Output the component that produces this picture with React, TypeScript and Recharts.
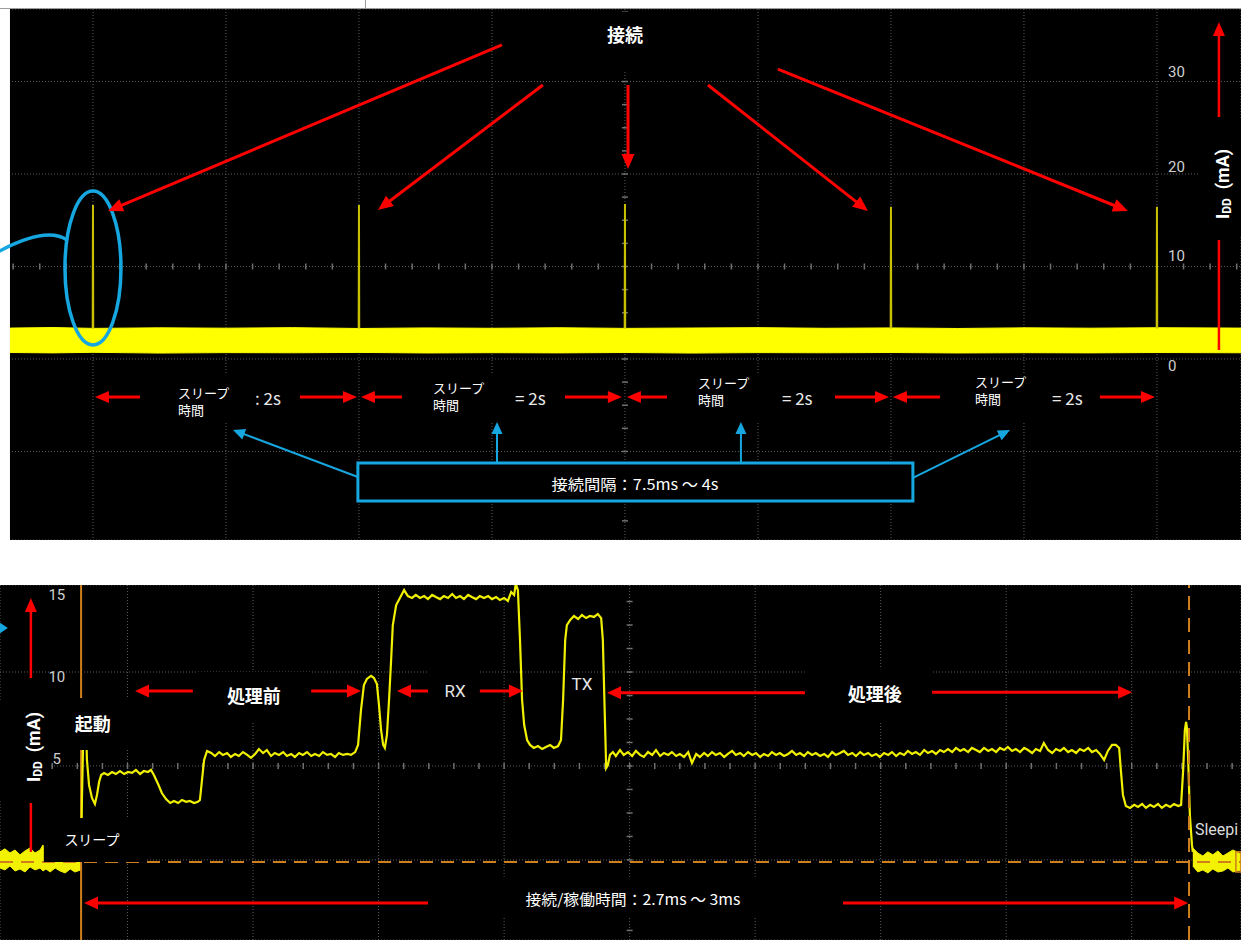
import React from 'react';
import {
  ComposedChart,
  Line,
  Area,
  XAxis,
  YAxis,
  CartesianGrid,
  ReferenceLine,
  ReferenceArea,
  ReferenceDot,
} from 'recharts';

const JP = '"Noto Sans CJK JP", "Noto Sans", sans-serif';
const SANS = 'Roboto, "Liberation Sans", Arial, sans-serif';
const RED = '#ff0000';
const BLUE = '#16a6e0';
const ORANGE = '#cf801c';

// ================= TOP PANEL (time in s, current in mA) =================
const TOP_T_DOMAIN: [number, number] = [-0.699, 8.632];
const TOP_V_DOMAIN: [number, number] = [-19.57, 37.84];
const TOP_GRID_TIME = [0, 1, 2, 3, 4, 5, 6, 7, 8];
const TOP_GRID_CURRENT = [-10, 0, 10, 20, 30];
const TOP_TICK_VALUES = [30, 20, 10, 0];
const TOP_TICK_LABELS = ['30', '20', '10', '0'];
const TOP_TICK_DY = [-10, -7, -10, 7];

// baseline (sleep) current band
const BASE_TIME = [-0.624, -0.3, 0, 0.5, 1, 1.5, 2, 2.5, 3, 3.5, 4, 4.5, 5, 5.5, 6, 6.5, 7, 7.5, 8, 8.632];
const BASE_LOW = [0.7, 0.66, 0.72, 0.64, 0.69, 0.67, 0.71, 0.65, 0.68, 0.66, 0.7, 0.64, 0.69, 0.67, 0.7, 0.65, 0.68, 0.66, 0.7, 0.67];
const BASE_HIGH = [3.34, 3.4, 3.31, 3.37, 3.33, 3.39, 3.3, 3.36, 3.32, 3.38, 3.31, 3.35, 3.39, 3.32, 3.36, 3.3, 3.37, 3.33, 3.38, 3.34];

// connection events
const CONNECTION_TIMES = [0, 2, 4, 6, 8];
const CONNECTION_PEAKS = [16.65, 16.65, 16.75, 16.45, 16.45];
const SPIKE_BASE = 3.3;

// sleep-interval annotations
const SLEEP_TEXT_T = [0.639, 2.556, 4.549, 6.632];
const SLEEP_TEXT_V1 = [-3.57, -3.03, -2.49, -2.38];
const SLEEP_TEXT_V2 = [-5.51, -4.97, -4.43, -4.32];
const SLEEP_EQ_T = [1.218, 3.173, 5.18, 7.211];
const SLEEP_EQ_LABELS = [': 2s', '= 2s', '= 2s', '= 2s'];
const SLEEP_LEFT_TIP = [0.015, 2.015, 4.015, 6.015];
const SLEEP_LEFT_TAIL = [0.353, 2.323, 4.316, 6.368];
const SLEEP_RIGHT_TAIL = [1.556, 3.549, 5.579, 7.571];
const SLEEP_RIGHT_TIP = [1.985, 3.977, 5.985, 7.985];
const SLEEP_BOX_T1 = [0.579, 2.496, 4.489, 6.571];
const SLEEP_BOX_T2 = [1.496, 3.451, 5.481, 7.474];

// ================= BOTTOM PANEL (time in µs, current in mA) =================
const BOT_T_DOMAIN: [number, number] = [-4.8, 2961.2];
const BOT_V_DOMAIN: [number, number] = [-4.26, 14.63];
const BOT_GRID_TIME = [0, 300, 600, 900, 1200, 1500, 1800, 2100, 2400, 2700];
const BOT_GRID_CURRENT = [0, 5, 10];
const BOT_TICK_VALUES = [15, 10, 5];
const BOT_TICK_LABELS = ['15', '10', '5'];
const BOT_TICK_DY = [17, 5, -7];

const SLEEP_BEFORE_T = [-5, 7, 19, 31, 43, 55, 67, 79, 91, 98, 105, 115, 127, 139, 151, 163, 174, 189];
const SLEEP_BEFORE_HI = [0.43, 0.59, 0.37, 0.53, 0.27, 0.48, 0.64, 0.37, 0.53, 0.8, 0.32, 0.43, 0.21, 0.48, 0.32, 0.43, 0.27, 0.37];
const SLEEP_BEFORE_LO = [-0.43, -0.53, -0.32, -0.59, -0.48, -0.64, -0.37, -0.53, -0.43, -0.59, -0.48, -0.64, -0.43, -0.59, -0.69, -0.48, -0.64, -0.53];

const SLEEP_AFTER_T = [2846, 2858, 2870, 2882, 2894, 2906, 2918, 2930, 2942, 2961];
const SLEEP_AFTER_HI = [0.64, 0.37, 0.21, 0.43, 0.27, 0.48, 0.21, 0.37, 0.53, 0.32];
const SLEEP_AFTER_LO = [-0.32, -0.64, -0.53, -0.69, -0.48, -0.64, -0.59, -0.43, -0.64, -0.53];

const ACTIVE_T = [
  189, 191, 194, 196, 198, 201, 203, 208, 215, 222, 227, 232, 237, 244, 253, 263, 272, 282, 292, 301,
  311, 320, 330, 339, 349, 356, 363, 373, 382, 392, 402, 411, 421, 430, 440, 449, 459, 468, 473, 478,
  483, 490, 500, 509, 519, 528, 538, 547, 557, 566, 576, 586, 595, 605, 614, 624, 633, 643, 652, 662,
  672, 681, 691, 700, 710, 719, 729, 739, 748, 758, 767, 777, 786, 796, 805, 815, 825, 834, 844, 851,
  858, 865, 872, 882, 889, 896, 901, 906, 911, 915, 920, 925, 930, 934, 942, 951, 961, 970, 980, 989,
  999, 1009, 1018, 1028, 1037, 1047, 1056, 1066, 1076, 1085, 1095, 1104, 1114, 1123, 1133, 1142, 1152, 1162, 1171, 1181,
  1190, 1200, 1209, 1217, 1224, 1228, 1233, 1238, 1243, 1248, 1255, 1262, 1271, 1281, 1291, 1300, 1310, 1319, 1329, 1336,
  1341, 1346, 1350, 1358, 1367, 1377, 1386, 1396, 1405, 1415, 1424, 1432, 1436, 1441, 1444, 1448, 1453, 1460, 1467, 1477,
  1486, 1496, 1506, 1515, 1525, 1534, 1544, 1554, 1563, 1573, 1582, 1592, 1601, 1611, 1620, 1630, 1640, 1649, 1659, 1668,
  1678, 1687, 1697, 1706, 1716, 1726, 1735, 1745, 1754, 1764, 1773, 1783, 1793, 1802, 1812, 1821, 1831, 1840, 1850, 1859,
  1869, 1879, 1888, 1898, 1907, 1917, 1926, 1936, 1945, 1955, 1965, 1974, 1984, 1993, 2003, 2012, 2022, 2032, 2041, 2051,
  2060, 2070, 2079, 2089, 2098, 2108, 2118, 2127, 2137, 2146, 2156, 2165, 2175, 2184, 2194, 2204, 2213, 2223, 2232, 2242,
  2251, 2261, 2271, 2280, 2290, 2299, 2309, 2318, 2328, 2337, 2347, 2357, 2366, 2376, 2385, 2395, 2404, 2414, 2423, 2433,
  2443, 2452, 2462, 2471, 2481, 2490, 2500, 2510, 2519, 2529, 2538, 2548, 2557, 2567, 2576, 2586, 2596, 2605, 2615, 2624,
  2634, 2643, 2653, 2662, 2670, 2674, 2679, 2686, 2696, 2706, 2715, 2725, 2734, 2744, 2753, 2763, 2772, 2782, 2792, 2801,
  2811, 2818, 2823, 2827, 2830, 2832, 2835, 2839, 2844, 2846,
];
const ACTIVE_I = [
  -0.11, 3.19, 6.38, 8.24, 8.51, 6.91, 5.32, 3.99, 3.3, 2.98, 3.46, 4.15, 4.52, 4.63, 4.52, 4.68, 4.57, 4.73, 4.57, 4.68,
  4.63, 4.79, 4.57, 4.73, 4.68, 4.79, 4.52, 4.04, 3.56, 3.24, 3.03, 3.14, 3.03, 3.19, 3.09, 3.14, 3.03, 3.09, 3.19, 4.26,
  5.32, 5.8, 5.69, 5.53, 5.74, 5.59, 5.69, 5.48, 5.64, 5.53, 5.74, 5.59, 5.43, 5.64, 5.9, 5.69, 5.85, 5.53, 5.69, 5.59,
  5.74, 5.53, 5.64, 5.48, 5.69, 5.59, 5.74, 5.53, 5.64, 5.53, 5.74, 5.59, 5.64, 5.48, 5.69, 5.59, 5.64, 5.59, 5.74, 6.12,
  7.98, 9.31, 9.63, 9.79, 9.68, 9.36, 8.24, 6.91, 6.12, 5.96, 6.65, 8.51, 10.64, 12.5, 13.56, 13.94, 14.36, 14.04, 13.94, 14.1,
  13.94, 14.04, 13.88, 14.1, 13.99, 13.88, 14.04, 13.94, 14.15, 13.94, 14.04, 13.88, 14.1, 13.99, 13.88, 14.04, 13.94, 14.04, 13.88, 13.99,
  13.83, 13.94, 13.78, 14.26, 14.1, 14.7, 14.36, 11.7, 8.51, 7.18, 6.38, 6.12, 5.96, 6.06, 5.9, 6.01, 6.12, 5.96, 6.06, 6.38,
  8.51, 11.7, 12.5, 12.77, 12.98, 12.82, 13.03, 12.87, 12.98, 12.93, 13.09, 12.87, 11.7, 7.45, 4.89, 5.05, 5.59, 5.74, 5.53, 5.85,
  5.59, 5.74, 5.53, 5.8, 5.59, 5.48, 5.74, 5.59, 5.85, 5.53, 5.69, 5.59, 5.74, 5.53, 5.64, 5.48, 5.74, 5.16, 5.64, 5.48,
  5.69, 5.53, 5.74, 5.59, 5.69, 5.48, 5.64, 5.8, 5.59, 5.69, 5.53, 5.74, 5.59, 5.69, 5.48, 5.64, 5.53, 5.74, 5.59, 5.69,
  5.53, 5.64, 5.8, 5.59, 5.69, 5.53, 5.74, 5.59, 5.69, 5.53, 5.64, 5.48, 5.74, 5.59, 5.69, 5.8, 5.59, 5.69, 5.53, 5.74,
  5.59, 5.69, 5.53, 5.64, 5.48, 5.69, 5.59, 5.74, 5.53, 5.69, 5.59, 5.8, 5.64, 5.74, 5.59, 5.85, 5.69, 5.8, 5.64, 5.85,
  5.74, 5.9, 5.74, 5.96, 5.8, 5.9, 5.74, 5.96, 5.85, 5.74, 5.96, 5.8, 5.9, 5.74, 5.96, 5.85, 6.01, 5.8, 5.9, 5.74,
  5.96, 5.85, 5.69, 5.9, 5.8, 6.22, 5.85, 5.69, 5.9, 5.8, 5.96, 5.74, 5.85, 5.69, 5.9, 5.8, 5.96, 5.74, 5.85, 5.64,
  5.32, 5.8, 6.12, 6.12, 5.96, 4.79, 3.46, 2.87, 2.77, 2.93, 2.82, 2.98, 2.77, 2.93, 2.82, 2.98, 2.77, 2.93, 2.82, 2.98,
  2.87, 2.93, 4.79, 6.91, 7.34, 7.02, 5.32, 2.39, 0.8, 0.43,
];

const CONNECTION_START_US = 189;
const CONNECTION_END_US = 2837;
const SLEEP_LEVEL = -0.11;

// axis minor tick positions (graticule)
const seq = (a: number, b: number, s: number) => {
  const out: number[] = [];
  for (let x = a; x <= b + 1e-9; x += s) out.push(Math.round(x * 1000) / 1000);
  return out;
};
const TOP_MINOR_T = seq(-0.6, 8.6, 0.2);
const TOP_MINOR_V = seq(-17.5, 37.5, 2.5);
const BOT_MINOR_T = seq(0, 2940, 60);
const BOT_MINOR_V = seq(-3.75, 13.75, 1.25);

// ---------- derived series ----------
const topBand = BASE_TIME.map((t, i) => ({ t, r: [BASE_LOW[i], BASE_HIGH[i]] }));
const spikeData = CONNECTION_TIMES.flatMap((c, i) => [
  { t: c - 0.002, v: SPIKE_BASE },
  { t: c, v: CONNECTION_PEAKS[i] },
  { t: c + 0.002, v: SPIKE_BASE },
  { t: c + 0.01, v: null },
]);
const sleepBefore = SLEEP_BEFORE_T.map((t, i) => ({ t, r: [SLEEP_BEFORE_LO[i], SLEEP_BEFORE_HI[i]] }));
const sleepAfter = SLEEP_AFTER_T.map((t, i) => ({ t, r: [SLEEP_AFTER_LO[i], SLEEP_AFTER_HI[i]] }));
const activeTrace = ACTIVE_T.map((t, i) => ({ t, v: ACTIVE_I[i] }));

// ---------- annotation helpers ----------
type TO = {
  size?: number;
  weight?: number | string;
  fill?: string;
  family?: string;
  anchor?: 'start' | 'middle' | 'end';
  len?: number;
  dy?: number;
  z?: number;
};

function txt(key: string, t: number, v: number, content: React.ReactNode, o: TO = {}) {
  return (
    <ReferenceDot
      key={key}
      x={t}
      y={v}
      r={0}
      ifOverflow="visible"
      zIndex={o.z ?? 1100}
      shape={(p: any) => (
        <text
          x={p.cx}
          y={p.cy + (o.dy ?? 0)}
          textAnchor={o.anchor ?? 'middle'}
          dominantBaseline="central"
          fontSize={o.size ?? 14}
          fontWeight={o.weight ?? 400}
          fill={o.fill ?? '#ffffff'}
          fontFamily={o.family ?? JP}
          {...(o.len ? { textLength: o.len, lengthAdjust: 'spacingAndGlyphs' } : {})}
        >
          {content}
        </text>
      )}
    />
  );
}

type AO = { color?: string; w?: number; head?: boolean; hl?: number; hw?: number };
function arrow(key: string, from: [number, number], to: [number, number], o: AO = {}) {
  const color = o.color ?? RED;
  const w = o.w ?? 3;
  const head = o.head ?? true;
  const hl = o.hl ?? 15;
  const hw = o.hw ?? 13;
  return (
    <ReferenceLine
      key={key}
      segment={[
        { x: from[0], y: from[1] },
        { x: to[0], y: to[1] },
      ]}
      ifOverflow="visible"
      zIndex={1200}
      shape={(p: any) => {
        const x1 = Number(p.x1), y1 = Number(p.y1), x2 = Number(p.x2), y2 = Number(p.y2);
        if (!head) return <line x1={x1} y1={y1} x2={x2} y2={y2} stroke={color} strokeWidth={w} />;
        const dx = x2 - x1, dy = y2 - y1;
        const len = Math.hypot(dx, dy) || 1;
        const ux = dx / len, uy = dy / len;
        const bx = x2 - ux * hl, by = y2 - uy * hl;
        const px = (-uy * hw) / 2, py = (ux * hw) / 2;
        return (
          <g>
            <line x1={x1} y1={y1} x2={bx + ux} y2={by + uy} stroke={color} strokeWidth={w} />
            <polygon points={`${x2},${y2} ${bx + px},${by + py} ${bx - px},${by - py}`} fill={color} />
          </g>
        );
      }}
    />
  );
}

function box(key: string, t1: number, t2: number, v1: number, v2: number) {
  return (
    <ReferenceArea
      key={key}
      x1={t1}
      x2={t2}
      y1={v1}
      y2={v2}
      fill="#000000"
      fillOpacity={1}
      stroke="none"
      ifOverflow="visible"
      zIndex={1000}
    />
  );
}

function tick(key: string, t: number, v: number, dir: 'h' | 'v') {
  return (
    <ReferenceDot
      key={key}
      x={t}
      y={v}
      r={0}
      zIndex={-50}
      shape={(p: any) =>
        dir === 'h' ? (
          <line x1={p.cx} x2={p.cx} y1={p.cy - 3} y2={p.cy + 3} stroke="#707070" strokeWidth={1.5} />
        ) : (
          <line x1={p.cx - 3} x2={p.cx + 3} y1={p.cy} y2={p.cy} stroke="#707070" strokeWidth={1.5} />
        )
      }
    />
  );
}

function iddLabel(key: string, t: number, v: number) {
  return (
    <ReferenceDot
      key={key}
      x={t}
      y={v}
      r={0}
      ifOverflow="visible"
      zIndex={1100}
      shape={(p: any) => (
        <text
          x={p.cx}
          y={p.cy}
          transform={`rotate(-90 ${p.cx} ${p.cy})`}
          textAnchor="middle"
          dominantBaseline="central"
          fontFamily={SANS}
          fontWeight={700}
          fontSize={18}
          fill="#ffffff"
        >
          <tspan>I</tspan>
          <tspan fontSize={12} dy={5}>DD</tspan>
          <tspan dy={-5}>{'\u00a0\u00a0(mA)'}</tspan>
        </text>
      )}
    />
  );
}

export default function App() {
  return (
    <div style={{ position: 'absolute', left: 0, top: 0, width: 1241, height: 940, background: '#ffffff', overflow: 'hidden' }}>
      <div style={{ position: 'absolute', left: 0, top: 8, width: 1241, height: 1, background: '#9c9c9c' }} />
      <div style={{ position: 'absolute', left: 365, top: 0, width: 1, height: 8, background: '#9c9c9c' }} />

      {/* ================= TOP PANEL ================= */}
      <div style={{ position: 'absolute', left: 0, top: 9, width: 1241, height: 531, background: '#000000' }}>
        <ComposedChart width={1241} height={531} margin={{ top: 0, right: 0, bottom: 0, left: 0 }}>
          <XAxis type="number" dataKey="t" domain={TOP_T_DOMAIN} ticks={TOP_GRID_TIME} hide allowDataOverflow />
          <YAxis type="number" domain={TOP_V_DOMAIN} ticks={TOP_GRID_CURRENT} hide allowDataOverflow />
          <CartesianGrid stroke="#5c5c5c" strokeDasharray="1 2" />
          {TOP_MINOR_T.map((t, i) => tick(`th${i}`, t, 10, 'h'))}
          {TOP_MINOR_V.map((v, i) => tick(`tv${i}`, 4, v, 'v'))}
          <Area
            data={topBand}
            dataKey="r"
            type="linear"
            stroke="#ffff00"
            strokeWidth={1}
            fill="#ffff00"
            fillOpacity={1}
            dot={false}
            activeDot={false}
            isAnimationActive={false}
          />
          <Line
            data={spikeData}
            dataKey="v"
            type="linear"
            stroke="#c8c000"
            strokeWidth={2}
            dot={false}
            activeDot={false}
            connectNulls={false}
            isAnimationActive={false}
          />
          <ReferenceArea x1={-0.7} x2={-0.624} fill="#ffffff" fillOpacity={1} stroke="none" ifOverflow="visible" zIndex={900} />

          {box('b-conn', 3.7, 4.3, 31.03, 37.51)}
          {box('b-idd', 8.323, 8.632, 13.41, 25.84)}
          {SLEEP_BOX_T1.map((t1, i) => box(`b-sl${i}`, t1, SLEEP_BOX_T2[i], -6.92, -1.6))}
          <ReferenceArea
            x1={1.992}
            x2={6.165}
            y1={-15.35}
            y2={-11.24}
            fill="#000000"
            fillOpacity={1}
            stroke={BLUE}
            strokeWidth={3}
            ifOverflow="visible"
            zIndex={1000}
          />

          {txt('conn', 4.0, 35.14, '接続', { size: 18, weight: 700 })}
          {TOP_TICK_VALUES.map((v, i) =>
            txt(`ytl${i}`, 8.083, v, TOP_TICK_LABELS[i], { anchor: 'start', size: 15, fill: '#cfcfcf', family: SANS, dy: TOP_TICK_DY[i] })
          )}
          {iddLabel('idd-top', 8.489, 18.92)}
          {SLEEP_TEXT_T.map((t, i) => txt(`s1-${i}`, t, SLEEP_TEXT_V1[i], 'スリープ', { anchor: 'start', size: 13 }))}
          {SLEEP_TEXT_T.map((t, i) => txt(`s2-${i}`, t, SLEEP_TEXT_V2[i], '時間', { anchor: 'start', size: 13 }))}
          {SLEEP_EQ_T.map((t, i) => txt(`eq-${i}`, t, -4.11, SLEEP_EQ_LABELS[i], { anchor: 'start', size: 17, fill: '#e8e8e8' }))}
          {txt('interval', 4.075, -13.41, '接続間隔：7.5ms ～ 4s', { size: 15, len: 167 })}

          <ReferenceDot
            x={0}
            y={9.84}
            r={0}
            ifOverflow="visible"
            zIndex={1150}
            shape={(p: any) => (
              <g fill="none" stroke={BLUE} strokeWidth={3.5}>
                <ellipse cx={p.cx} cy={p.cy} rx={28} ry={77} />
                <path d={`M ${p.cx - 95} ${p.cy - 16} Q ${p.cx - 47} ${p.cy - 42} ${p.cx - 26} ${p.cy - 28}`} />
              </g>
            )}
          />

          {arrow('a1', [3.075, 33.95], [0.113, 16.0])}
          {arrow('a2', [3.383, 29.62], [2.143, 16.11])}
          {arrow('a3', [4.023, 29.62], [4.023, 20.54])}
          {arrow('a4', [4.624, 29.62], [5.827, 16.0])}
          {arrow('a5', [5.15, 31.35], [7.782, 16.0])}
          {arrow('idd-up', [8.466, 26.16], [8.466, 36.43], { w: 2.5, hl: 14, hw: 12 })}
          {arrow('idd-dn', [8.466, 12.86], [8.466, 0.97], { w: 2.5, head: false })}
          {SLEEP_LEFT_TIP.map((tip, i) => arrow(`sl-l${i}`, [SLEEP_LEFT_TAIL[i], -4.11], [tip, -4.11], { hl: 14, hw: 12 }))}
          {SLEEP_RIGHT_TIP.map((tip, i) => arrow(`sl-r${i}`, [SLEEP_RIGHT_TAIL[i], -4.11], [tip, -4.11], { hl: 14, hw: 12 }))}
          {arrow('bl1', [1.992, -12.76], [1.053, -7.68], { color: BLUE, w: 2, hl: 12, hw: 11 })}
          {arrow('bl2', [3.038, -11.24], [3.038, -6.81], { color: BLUE, w: 2, hl: 12, hw: 11 })}
          {arrow('bl3', [4.872, -11.24], [4.872, -6.81], { color: BLUE, w: 2, hl: 12, hw: 11 })}
          {arrow('bl4', [6.165, -12.86], [6.895, -7.68], { color: BLUE, w: 2, hl: 12, hw: 11 })}
        </ComposedChart>
      </div>

      {/* ================= BOTTOM PANEL ================= */}
      <div style={{ position: 'absolute', left: 0, top: 585, width: 1241, height: 355, background: '#000000' }}>
        <ComposedChart width={1241} height={355} margin={{ top: 0, right: 0, bottom: 0, left: 0 }}>
          <XAxis type="number" dataKey="t" domain={BOT_T_DOMAIN} ticks={BOT_GRID_TIME} hide allowDataOverflow />
          <YAxis type="number" domain={BOT_V_DOMAIN} ticks={BOT_GRID_CURRENT} hide allowDataOverflow />
          <CartesianGrid stroke="#5c5c5c" strokeDasharray="1 2" />
          {BOT_MINOR_T.map((t, i) => tick(`bh${i}`, t, 5, 'h'))}
          {BOT_MINOR_V.map((v, i) => tick(`bv${i}`, 1500, v, 'v'))}

          <ReferenceLine x={CONNECTION_START_US} stroke={ORANGE} strokeWidth={2} zIndex={350} />
          <ReferenceLine y={SLEEP_LEVEL} stroke={ORANGE} strokeWidth={2} strokeDasharray="13 8" zIndex={350} />

          <Area
            data={sleepBefore}
            dataKey="r"
            type="linear"
            stroke="#f2f200"
            strokeWidth={1}
            fill="#f2f200"
            fillOpacity={1}
            dot={false}
            activeDot={false}
            isAnimationActive={false}
          />
          <Area
            data={sleepAfter}
            dataKey="r"
            type="linear"
            stroke="#f2f200"
            strokeWidth={1}
            fill="#f2f200"
            fillOpacity={1}
            dot={false}
            activeDot={false}
            isAnimationActive={false}
          />
          <Line
            data={activeTrace}
            dataKey="v"
            type="linear"
            stroke="#f0f000"
            strokeWidth={2.2}
            dot={false}
            activeDot={false}
            isAnimationActive={false}
          />
          <ReferenceLine x={CONNECTION_END_US} stroke={ORANGE} strokeWidth={2} strokeDasharray="14 8" zIndex={450} />
          <ReferenceArea x1={2949} x2={2961.2} y1={-0.64} y2={0.43} fill="none" stroke={ORANGE} strokeWidth={1.5} ifOverflow="visible" zIndex={450} />

          {box('bb-kido', 103, 354, 5.85, 8.62)}
          {box('bb-pre', 466, 736, 7.34, 10.0)}
          {box('bb-rx', 1018, 1142, 7.77, 10.21)}
          {box('bb-post', 1919, 2223, 7.34, 10.21)}
          {box('bb-sleep', 100, 342, -0.11, 2.23)}
          {box('bb-dur', 1023, 2010, -3.03, -0.9)}
          {box('bb-idd', -4.8, 115, 3.19, 8.51)}

          {BOT_TICK_VALUES.map((v, i) =>
            txt(`byl${i}`, 131, v, BOT_TICK_LABELS[i], { size: 15, fill: '#cfcfcf', family: SANS, dy: BOT_TICK_DY[i] })
          )}
          {iddLabel('idd-bot', 74, 6.01)}
          {txt('kido', 217, 7.29, '起動', { size: 18, weight: 700 })}
          {txt('pre', 602, 8.78, '処理前', { size: 18, weight: 700 })}
          {txt('rx', 1083, 8.99, 'RX', { size: 17, fill: '#e6e6e6', family: SANS })}
          {txt('tx', 1386, 9.36, 'TX', { size: 17, fill: '#e6e6e6', family: SANS })}
          {txt('post', 2086, 8.88, '処理後', { size: 18, weight: 700 })}
          {txt('sleepjp', 215, 1.12, 'スリープ', { size: 14 })}
          {txt('dur', 1508, -2.07, '接続/稼働時間：2.7ms ～ 3ms', { size: 15, len: 215 })}
          {txt('sleeping', 2851, 1.6, 'Sleepi', { anchor: 'start', size: 16, fill: '#dcdcdc', family: SANS })}

          <ReferenceDot
            x={2}
            y={12.34}
            r={0}
            ifOverflow="visible"
            zIndex={1100}
            shape={(p: any) => (
              <polygon points={`${p.cx - 4},${p.cy - 6} ${p.cx + 5},${p.cy} ${p.cx - 4},${p.cy + 6}`} fill={BLUE} />
            )}
          />

          {arrow('p1', [456, 8.99], [318, 8.99], { hl: 14, hw: 13 })}
          {arrow('p2', [739, 8.99], [858, 8.99], { hl: 14, hw: 13 })}
          {arrow('r1', [1018, 8.99], [944, 8.99], { hl: 14, hw: 13 })}
          {arrow('r2', [1142, 8.99], [1245, 8.99], { hl: 14, hw: 13 })}
          {arrow('q1', [1919, 8.9], [1446, 8.9], { hl: 14, hw: 13 })}
          {arrow('q2', [2223, 8.92], [2701, 8.92], { hl: 14, hw: 13 })}
          {arrow('d1', [1018, -2.29], [196, -2.29], { hl: 14, hw: 13 })}
          {arrow('d2', [2010, -2.29], [2835, -2.29], { hl: 14, hw: 13 })}
          {arrow('iddb-up', [69, 9.68], [69, 13.94], { w: 2.5, hl: 14, hw: 12 })}
          {arrow('iddb-dn', [69, 3.03], [69, 0.43], { w: 2.5, head: false })}
        </ComposedChart>
      </div>
    </div>
  );
}
